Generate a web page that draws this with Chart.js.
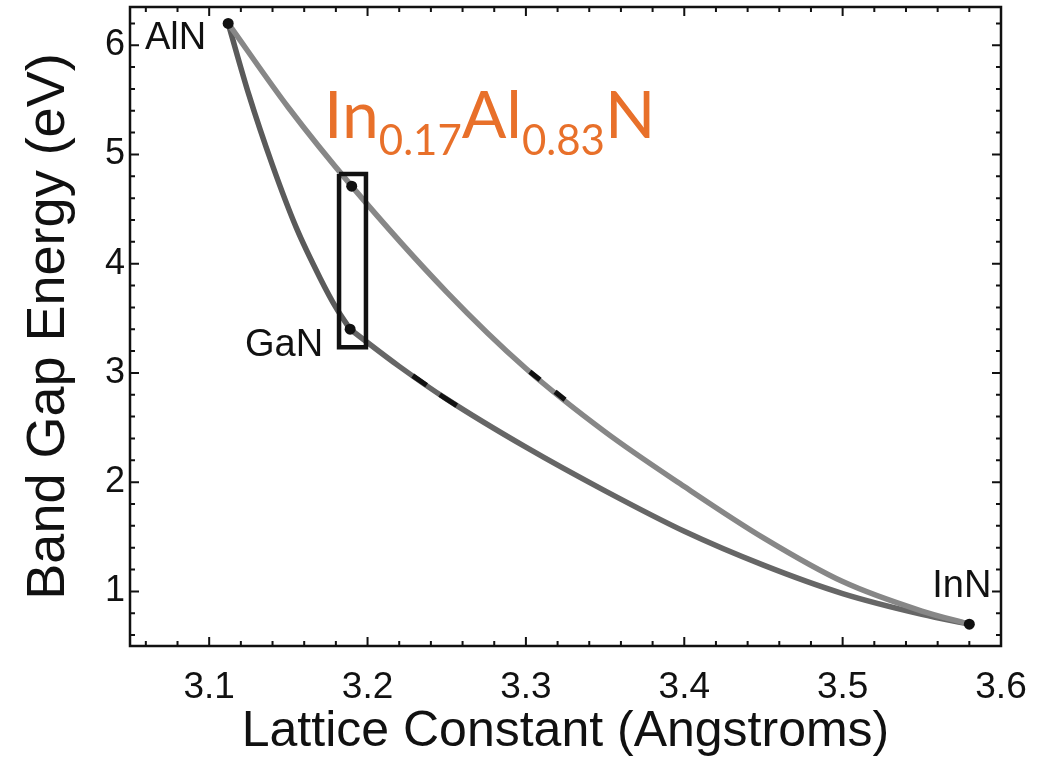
<!DOCTYPE html>
<html>
<head>
<meta charset="utf-8">
<script src="https://cdn.jsdelivr.net/npm/chart.js@4.4.1/dist/chart.umd.min.js"></script>
<style>
  html, body { margin: 0; padding: 0; background: #ffffff; }
  #wrap { width: 1056px; height: 765px; position: relative; }
</style>
</head>
<body>
<div id="wrap"><canvas id="c" width="1056" height="765"></canvas></div>
<script>
// ---- data ----
const xTitle = 'Lattice Constant (Angstroms)';
const yTitle = 'Band Gap Energy (eV)';
const xTickValues = [3.1, 3.2, 3.3, 3.4, 3.5, 3.6];
const yTickValues = [1, 2, 3, 4, 5, 6];

// AlN - InN (upper, light curve)
const alInA = [3.112, 3.15, 3.19, 3.25, 3.30, 3.35, 3.40, 3.45, 3.50, 3.55, 3.58];
const alInE = [6.2, 5.43, 4.71, 3.74, 3.04, 2.46, 1.96, 1.49, 1.09, 0.82, 0.7];
// AlN - GaN
const alGaA = [3.112, 3.125, 3.14, 3.155, 3.17, 3.18, 3.189];
const alGaE = [6.2, 5.55, 4.9, 4.33, 3.87, 3.6, 3.4];
// GaN - InN
const gaInA = [3.189, 3.22, 3.25, 3.30, 3.35, 3.40, 3.45, 3.50, 3.55, 3.58];
const gaInE = [3.4, 3.06, 2.76, 2.32, 1.92, 1.55, 1.24, 0.98, 0.79, 0.7];

// marked compounds
const pointNames = ['AlN', 'GaN', 'InN', 'In0.17Al0.83N'];
const pointA = [3.112, 3.189, 3.58, 3.19];
const pointE = [6.2, 3.4, 0.7, 4.71];

// highlight box corners (lattice constant / energy)
const boxA = [3.182, 3.199, 3.199, 3.182, 3.182];
const boxE = [4.82, 4.82, 3.235, 3.235, 4.82];

// short dark dashes seen on the curves (pairs of end points, null = gap)
const dashA = [3.2285, 3.2373, 3.24, 3.2456, 3.2563, 3.27, 3.3025, 3.3089, 3.31, 3.3184, 3.3247];
const dashE = [2.975, 2.887, null, 2.80, 2.70, null, 3.01, 2.937, null, 2.827, 2.754];

const toXY = (xs, ys) => xs.map((v, i) => ({ x: v, y: ys[i] }));

const FONT = "'Liberation Sans', Arial, sans-serif";
const INK = '#111111';

// frame with inward ticks on all four sides
const framePlugin = {
  id: 'frame',
  afterDraw(chart) {
    const { ctx, chartArea: a, scales: { x, y } } = chart;
    ctx.save();
    ctx.strokeStyle = INK;
    ctx.lineWidth = 2.5;
    ctx.strokeRect(a.left, a.top, a.right - a.left, a.bottom - a.top);
    ctx.lineWidth = 2;
    const major = 9, minor = 5;
    const xStep = 0.02, xMajor = 0.1, yStep = 0.2, yMajor = 1;
    ctx.beginPath();
    for (let i = Math.ceil(x.min / xStep - 1e-6); i <= Math.floor(x.max / xStep + 1e-6); i++) {
      const v = i * xStep;
      const px = x.getPixelForValue(v);
      if (px <= a.left + 1 || px >= a.right - 1) continue;
      const isMaj = Math.abs(v / xMajor - Math.round(v / xMajor)) < 1e-6;
      const L = isMaj ? major : minor;
      ctx.moveTo(px, a.bottom); ctx.lineTo(px, a.bottom - L);
      ctx.moveTo(px, a.top); ctx.lineTo(px, a.top + L);
    }
    for (let i = Math.ceil(y.min / yStep - 1e-6); i <= Math.floor(y.max / yStep + 1e-6); i++) {
      const v = i * yStep;
      const py = y.getPixelForValue(v);
      if (py <= a.top + 1 || py >= a.bottom - 1) continue;
      const isMaj = Math.abs(v / yMajor - Math.round(v / yMajor)) < 1e-6;
      const L = isMaj ? major : minor;
      ctx.moveTo(a.left, py); ctx.lineTo(a.left + L, py);
      ctx.moveTo(a.right, py); ctx.lineTo(a.right - L, py);
    }
    ctx.stroke();
    ctx.restore();
  }
};

// labels for the compounds, anchored to their data points
const labelPlugin = {
  id: 'labels',
  afterDatasetsDraw(chart) {
    const { ctx, scales: { x, y } } = chart;
    ctx.save();
    ctx.fillStyle = INK;
    ctx.font = '38px ' + FONT;
    ctx.textBaseline = 'alphabetic';
    ctx.textAlign = 'right';
    // AlN
    ctx.fillText(pointNames[0], x.getPixelForValue(pointA[0]) - 22, y.getPixelForValue(pointE[0]) + 26);
    // GaN
    ctx.fillText(pointNames[1], x.getPixelForValue(pointA[1]) - 27, y.getPixelForValue(pointE[1]) + 27);
    // InN
    ctx.fillText(pointNames[2], x.getPixelForValue(pointA[2]) + 22, y.getPixelForValue(pointE[2]) - 27);

    // orange formula In0.17Al0.83N
    const parts = [['In', false], ['0.17', true], ['Al', false], ['0.83', true], ['N', false]];
    let px = x.getPixelForValue(3.1725);
    const base = y.getPixelForValue(5.15);
    ctx.fillStyle = '#E8702A';
    ctx.textAlign = 'left';
    for (const [t, sub] of parts) {
      ctx.font = (sub ? '42px ' : '66px ') + "Lato, 'Open Sans', sans-serif";
      ctx.fillText(t, px, base + (sub ? 17 : 0));
      px += ctx.measureText(t).width;
    }
    ctx.restore();
  }
};

const curve = (label, xs, ys, color) => ({
  label,
  data: toXY(xs, ys),
  showLine: true,
  borderColor: color,
  borderWidth: 5.5,
  borderCapStyle: 'round',
  borderJoinStyle: 'round',
  pointRadius: 0,
  cubicInterpolationMode: 'monotone'
});

new Chart(document.getElementById('c'), {
  type: 'scatter',
  data: {
    datasets: [
      {
        label: 'compounds',
        data: toXY(pointA, pointE),
        pointRadius: 5.5,
        pointBackgroundColor: INK,
        pointBorderWidth: 0,
        showLine: false
      },
      {
        label: 'box',
        data: toXY(boxA, boxE),
        showLine: true,
        borderColor: INK,
        borderWidth: 4.5,
        borderJoinStyle: 'miter',
        pointRadius: 0,
        tension: 0
      },
      {
        label: 'dashes',
        data: toXY(dashA, dashE),
        showLine: true,
        spanGaps: false,
        borderColor: '#111111',
        borderWidth: 5,
        pointRadius: 0,
        tension: 0
      },
      curve('AlN-InN', alInA, alInE, '#878787'),
      curve('AlN-GaN', alGaA, alGaE, '#5a5a5a'),
      curve('GaN-InN', gaInA, gaInE, '#666666')
    ]
  },
  options: {
    responsive: false,
    animation: false,
    events: [],
    layout: { padding: { left: 0, right: 55, top: 7, bottom: 0 } },
    plugins: { legend: { display: false }, tooltip: { enabled: false } },
    scales: {
      x: {
        type: 'linear',
        min: 3.05,
        max: 3.6,
        afterBuildTicks: s => { s.ticks = xTickValues.map(v => ({ value: v })); },
        afterFit: s => { s.height = 119; s.paddingLeft = 0; s.paddingRight = 0; },
        grid: { display: false, drawTicks: false },
        border: { display: false },
        ticks: {
          padding: 20,
          color: INK,
          maxRotation: 0,
          font: { family: FONT, size: 37 },
          callback: v => Number(v).toFixed(1)
        },
        title: {
          display: true,
          text: xTitle,
          color: INK,
          font: { family: FONT, size: 50, lineHeight: 1 },
          padding: { top: 0, bottom: 8 }
        }
      },
      y: {
        type: 'linear',
        min: 0.5,
        max: 6.35,
        afterBuildTicks: s => { s.ticks = yTickValues.map(v => ({ value: v })); },
        afterFit: s => { s.width = 130; s.paddingTop = 0; s.paddingBottom = 0; },
        grid: { display: false, drawTicks: false },
        border: { display: false },
        ticks: {
          padding: 5,
          color: INK,
          font: { family: FONT, size: 36 },
          callback: v => String(v)
        },
        title: {
          display: true,
          text: yTitle,
          color: INK,
          font: { family: FONT, size: 54, lineHeight: 1 },
          padding: { top: 22, bottom: 0 }
        }
      }
    }
  },
  plugins: [framePlugin, labelPlugin]
});
</script>
</body>
</html>
